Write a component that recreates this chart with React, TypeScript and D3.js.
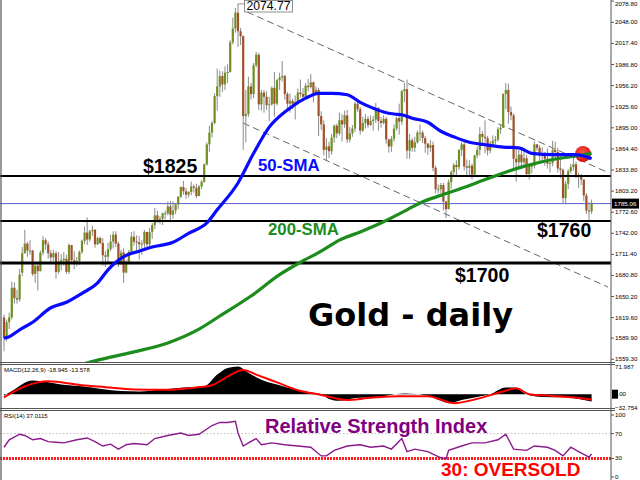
import React from "react";
import * as d3 from "d3";

// ---------- Daily candles (Apr 2020 – Feb 2021) ----------
const opens = [
  1620,1590,1613,1620,1663,1648,1646,1685,1713,1727,1717,1717,1683,1695,1687,1714,1732,1726,1713,1707,1713,
  1686,1700,1703,1705,1686,1725,1703,1698,1702,1715,1731,1743,1733,1745,1747,1726,1735,1728,1710,1708,1719,
  1730,1740,1727,1698,1714,1685,1698,1715,1737,1730,1729,1726,1727,1744,1726,1744,1754,1768,1761,1763,1771,1771,
  1781,1769,1775,1784,1795,1809,1803,1798,1802,1810,1808,1796,1810,1817,1842,1871,1888,1902,1941,1955,1970,1958,
  1975,1976,2019,2039,2062,2035,2028,1912,1915,1955,1944,1986,2001,1929,1946,1940,1928,1929,1953,1930,1964,
  1968,1970,1944,1930,1934,1930,1932,1946,1944,1940,1956,1954,1961,1944,1950,1912,1900,1863,1868,1861,1881,1898,
  1887,1906,1900,1913,1878,1887,1894,1930,1922,1891,1902,1908,1899,1905,1907,1924,1905,1902,1908,1878,1868,
  1879,1894,1909,1904,1948,1951,1862,1877,1866,1874,1888,1888,1880,1872,1866,1870,1837,1806,1806,1812,1788,
  1777,1816,1831,1841,1838,1863,1871,1839,1837,1840,1827,1855,1863,1886,1882,1880,1862,1872,1876,1878,1893,
  1895,1944,1950,1918,1913,1850,1845,1856,1845,1851,1828,1840,1840,1871,1866,1856,1856,1850,1843,1844,
  1863,1860,1836,1834,1793,1814,1832,1838,1842,1826,1824,1820,1797,1775,1774,
];
const highs = [
  1624,1617,1627,1672,1671,1660,1690,1722,1747,1730,1732,1718,1700,1698,1717,1738,1735,1730,1718,1718,1716,
  1715,1712,1715,1711,1727,1722,1716,1708,1717,1733,1752,1765,1747,1753,1748,1737,1737,1735,1716,1728,1740,
  1745,1745,1730,1718,1720,1703,1718,1744,1745,1739,1738,1732,1747,1744,1750,1757,1779,1775,1767,1772,1775,1788,
  1789,1788,1786,1796,1810,1818,1808,1803,1817,1813,1814,1812,1819,1843,1874,1898,1905,1945,1981,1978,1977,1984,
  1987,2022,2055,2069,2075,2040,2029,1950,1969,1960,1989,2005,2004,1950,1950,1948,1940,1955,1976,1966,1975,
  1992,1972,1947,1945,1937,1942,1952,1965,1953,1960,1966,1973,1962,1955,1953,1919,1906,1880,1875,1886,1900,1901,
  1917,1915,1920,1921,1896,1899,1933,1933,1925,1911,1915,1912,1913,1912,1931,1925,1911,1913,1911,1879,1883,
  1900,1911,1930,1950,1960,1965,1886,1880,1882,1891,1900,1891,1883,1873,1877,1875,1840,1813,1815,1815,1789,
  1820,1833,1844,1848,1864,1875,1875,1849,1848,1843,1856,1868,1896,1890,1906,1883,1876,1884,1883,1896,1900,
  1945,1960,1959,1926,1916,1864,1863,1865,1864,1856,1842,1843,1875,1871,1870,1867,1860,1865,1850,1876,
  1875,1866,1856,1836,1818,1835,1843,1855,1846,1830,1828,1820,1800,1787,1791,
];
const lows = [
  1571,1585,1603,1617,1640,1640,1643,1680,1713,1708,1711,1680,1670,1659,1687,1710,1718,1705,1700,1702,1676,
  1683,1688,1695,1683,1683,1700,1690,1694,1696,1712,1726,1725,1730,1738,1721,1725,1726,1695,1693,1700,1716,
  1720,1722,1693,1696,1670,1684,1697,1713,1724,1714,1704,1711,1720,1721,1723,1734,1748,1757,1755,1754,1762,1768,
  1758,1763,1770,1777,1793,1798,1792,1794,1797,1801,1793,1796,1806,1815,1840,1860,1881,1900,1920,1940,1947,1950,
  1960,1975,2016,2033,2012,2015,1863,1874,1911,1936,1938,1983,1921,1920,1917,1921,1905,1927,1911,1927,1950,
  1962,1936,1922,1917,1922,1907,1928,1939,1934,1938,1948,1952,1932,1943,1883,1892,1855,1848,1851,1856,1873,1880,
  1884,1875,1895,1873,1874,1882,1889,1918,1885,1889,1894,1895,1898,1891,1902,1891,1895,1900,1872,1859,1860,
  1875,1891,1885,1899,1932,1850,1850,1860,1860,1872,1876,1873,1859,1856,1860,1832,1800,1800,1800,1775,1764,
  1777,1806,1826,1826,1834,1854,1833,1825,1826,1820,1825,1851,1855,1871,1858,1855,1858,1868,1871,1875,1886,
  1896,1922,1901,1906,1836,1817,1838,1839,1840,1824,1820,1829,1836,1862,1843,1846,1840,1836,1830,1839,
  1847,1830,1822,1785,1784,1806,1829,1833,1822,1808,1812,1789,1770,1761,1770,
];
const closes = [
  1590,1613,1620,1663,1648,1646,1682,1713,1727,1717,1717,1683,1695,1687,1714,1732,1726,1713,1707,1713,1686,
  1700,1703,1705,1686,1725,1703,1698,1702,1715,1731,1743,1733,1745,1747,1726,1735,1728,1710,1708,1719,1730,
  1740,1727,1698,1714,1685,1698,1715,1737,1730,1729,1726,1727,1744,1726,1744,1754,1768,1761,1763,1771,1771,1781,
  1769,1775,1784,1795,1809,1803,1798,1802,1810,1808,1796,1810,1817,1842,1871,1888,1902,1941,1955,1970,1958,1975,
  1976,2019,2039,2062,2035,2028,1912,1915,1955,1944,1986,2001,1929,1946,1940,1928,1929,1953,1930,1964,1968,
  1970,1944,1930,1934,1930,1932,1946,1944,1940,1956,1954,1961,1944,1950,1912,1900,1863,1868,1861,1881,1898,1887,
  1906,1900,1913,1878,1887,1894,1930,1922,1891,1902,1908,1899,1905,1907,1924,1905,1902,1908,1878,1868,1879,
  1894,1909,1904,1948,1951,1862,1877,1866,1874,1888,1888,1880,1872,1866,1870,1837,1806,1806,1812,1788,1777,
  1816,1831,1841,1838,1863,1871,1839,1837,1840,1827,1855,1863,1886,1882,1880,1862,1872,1876,1878,1893,1895,
  1944,1950,1918,1913,1850,1845,1856,1845,1851,1828,1840,1840,1871,1866,1856,1856,1850,1843,1844,1863,
  1860,1836,1834,1793,1814,1832,1838,1842,1826,1824,1820,1797,1775,1774,1785.06,
];

// ---------- Moving averages (bar index -> price) ----------
const sma50Bars = [0,2,6,11,18,24,30,36,40,43,47,52,57,65,71,78,82,90,96,102,109,116,121,126,132,137,141,146,150,153,157,163,168,173,179,186,192,198,203,211,219,224,226];
const sma50Vals = [1590,1592,1602,1613,1634,1642,1655,1670,1689,1700,1710,1716,1722,1729,1742,1757,1776,1815,1858,1896,1921,1938,1945,1945,1943,1932,1925,1918,1915,1914,1909,1903,1890,1882,1874,1870,1867,1866,1858,1856,1856,1853,1850];
const sma200Bars = [28,36,50,63,75,83,95,106,114,122,129,137,145,155,160,168,175,183,188,194,199,205,211,218,226];
const sma200Vals = [1550,1558,1570,1583,1603,1622,1651,1682,1700,1716,1732,1744,1757,1776,1786,1797,1806,1817,1824,1832,1838,1844,1849,1853,1858];

// ---------- MACD(12,26,9) ----------
const macdBars = [0,3,11,22,30,45,52,61,69,77,82,86,90,94,99,105,112,118,122,125,129,135,143,154,163,168,171,176,182,187,193,196,201,207,215,221,226];
const macdVals = [-4,8,35,25,20,8,7,12,17,20,50,67,71,55,37,25,12,5,0,-12,-17,-10,-7,2,-4,-17,-23,-15,-7,0,17,17,0,-7,-8,-12,-18.9];
const signalBars = [0,8,17,30,39,50,61,74,80,86,92,97,105,113,122,132,140,152,163,173,182,192,197,202,210,218,226];
const signalVals = [-8,20,33,23,18,12,11,17,23,45,62,50,30,10,-2,-15,-10,-5,-5,-23,-12,7,15,0,-4,-8,-13.6];

// ---------- RSI(14) ----------
const rsiBars = [0,2,6,8,11,14,17,20,23,28,32,35,38,41,44,47,50,55,58,63,68,71,75,80,83,86,89,90,92,94,97,99,103,108,113,118,122,124,127,132,137,141,146,149,153,155,158,163,168,170,171,176,180,185,190,193,196,201,204,209,212,215,218,221,225,226];
const rsiVals = [48,60,69,67,60,62,57,56,55,60,63,57,50,53,45,52,54,52,62,67,71,67,69,83,88,88,90,71,50,55,62,52,55,52,50,48,34,34,43,50,52,48,50,45,62,41,45,41,31,29,43,50,55,55,60,69,45,43,50,48,43,34,48,41,32,37];

// ---------- Axes / annotations ----------
const priceTicks = [2078.8,2048.0,2017.4,1986.8,1956.2,1925.6,1895.0,1864.4,1833.8,1803.2,1772.6,1742.0,1711.4,1680.8,1650.2,1619.6,1589.9,1559.3];
const macdTicks = [71.987, -32.754];
const rsiTicks = [100, 70, 30, 0];
const levelPrices = [1825, 1760, 1699];
const levelWidths = [2, 2, 3];
const lastPrice = 1785.06;
const peakBar = 90;
const peakPrice = 2074.77;
const upperTrend = [[93.5, 2063], [231.2, 1832]];
const lowerTrend = [[91.9, 1902], [232.3, 1664]];
const crossBar = 222.7;
const crossPrice = 1857;

const AX = 611;
const FONT = "'Liberation Sans', Arial, sans-serif";

export default function App() {
  const n = closes.length;
  const x = d3.scaleLinear().domain([0, n - 1]).range([4, 4 + 2.6 * (n - 1)]);
  const y = d3.scaleLinear().domain([1555.3, 2080.4]).range([362, 0]);
  const ym = d3.scaleLinear().domain([-32.754, 71.987]).range([407, 366]);
  const yr = d3.scaleLinear().domain([0, 100]).range([477, 415]);

  const mkLine = (bars: number[], vals: number[], ys: (v: number) => number, curve: any = d3.curveMonotoneX) =>
    d3.line<number>().x((_, i) => x(bars[i])).y((v) => ys(v)).curve(curve)(vals) || "";

  const sma50Path = mkLine(sma50Bars, sma50Vals, y);
  const sma200Path = mkLine(sma200Bars, sma200Vals, y);
  const macdArea = d3.area<number>().x((_, i) => x(macdBars[i])).y0(ym(0)).y1((v) => ym(v)).curve(d3.curveMonotoneX)(macdVals) || "";
  const signalPath = mkLine(signalBars, signalVals, ym);
  const rsiPath = mkLine(rsiBars, rsiVals, yr, d3.curveLinear);

  const fmt = d3.format(".2f");

  return (
    <svg width={640} height={480} style={{ position: "absolute", left: 0, top: 0, background: "#fff" }} fontFamily={FONT}>
      <defs>
        <clipPath id="pc"><rect x={0} y={0} width={AX} height={362} /></clipPath>
        <clipPath id="mc"><rect x={0} y={364} width={AX} height={45} /></clipPath>
        <radialGradient id="ball" cx="45%" cy="40%" r="60%">
          <stop offset="0%" stopColor="#ff5a4a" />
          <stop offset="100%" stopColor="#d80f0f" />
        </radialGradient>
      </defs>
      <rect x={0} y={0} width={640} height={480} fill="#fff" />

      {/* ---------- price panel ---------- */}
      <g clipPath="url(#pc)">
        <line x1={0} x2={AX} y1={y(lastPrice)} y2={y(lastPrice)} stroke="#4646c8" strokeWidth={0.9} />
        {[upperTrend, lowerTrend].map((t, k) => (
          <line key={k} x1={x(t[0][0])} y1={y(t[0][1])} x2={x(t[1][0])} y2={y(t[1][1])}
            stroke="#555" strokeWidth={0.9} strokeDasharray="7,4" />
        ))}
        {closes.map((c, i) => {
          const o = opens[i];
          const hi = Math.max(highs[i], o, c);
          const lo = Math.min(lows[i], o, c);
          const top = y(Math.max(o, c));
          const bot = y(Math.min(o, c));
          const cx = x(i);
          return (
            <g key={i}>
              <line x1={cx} x2={cx} y1={y(hi)} y2={y(lo)} stroke="#8a8a8a" strokeWidth={1} />
              <rect x={cx - 1.1} y={top} width={2.2} height={Math.max(1, bot - top)}
                fill={c >= o ? "#6f8f22" : "#a0502a"} />
            </g>
          );
        })}
        {levelPrices.map((p, k) => (
          <line key={k} x1={0} x2={AX} y1={y(p)} y2={y(p)} stroke="#000" strokeWidth={levelWidths[k]} />
        ))}
        <circle cx={x(crossBar)} cy={y(crossPrice)} r={8} fill="url(#ball)" />
        <path d={sma200Path} fill="none" stroke="#1c8c1c" strokeWidth={3.2} />
        <path d={sma50Path} fill="none" stroke="#0a0aff" strokeWidth={3.2} />
      </g>

      {/* peak label */}
      <line x1={x(peakBar)} y1={y(peakPrice)} x2={244.5} y2={y(peakPrice)} stroke="#777" strokeWidth={0.8} />
      <rect x={244.5} y={0.5} width={48} height={11.5} fill="#fff" stroke="#777" strokeWidth={0.8} />
      <text x={246.5} y={10} fontSize={12.2} fill="#000">{fmt(peakPrice)}</text>

      {/* annotations */}
      <text x={143} y={173} fontSize={19.5} fontWeight="bold" fill="#000">$1825</text>
      <text x={258} y={171} fontSize={16.8} fontWeight="bold" fill="#0a0aff">50-SMA</text>
      <text x={268} y={235} fontSize={16.8} fontWeight="bold" fill="#1c8c1c">200-SMA</text>
      <text x={537} y={237} fontSize={19.5} fontWeight="bold" fill="#000">$1760</text>
      <text x={455} y={282} fontSize={19.5} fontWeight="bold" fill="#000">$1700</text>
      <text x={308} y={326} fontSize={32} fontWeight="bold" fontFamily="'DejaVu Sans', sans-serif" fill="#000">Gold - daily</text>

      {/* ---------- MACD panel ---------- */}
      <g clipPath="url(#mc)">
        <path d={macdArea} fill="#000" />
        <path d={signalPath} fill="none" stroke="#ff0000" strokeWidth={2} />
      </g>
      <text x={4} y={372} fontSize={6} fill="#000">MACD(12,26,9) -18.945 -13.578</text>

      {/* ---------- RSI panel ---------- */}
      <line x1={0} x2={AX} y1={yr(70)} y2={yr(70)} stroke="#bdbdbd" strokeWidth={1} strokeDasharray="1.5,2" />
      <line x1={0} x2={AX} y1={yr(30)} y2={yr(30)} stroke="#ff2020" strokeWidth={3} strokeDasharray="2,1" />
      <path d={rsiPath} fill="none" stroke="#8a1a8a" strokeWidth={1.4} />
      <text x={4} y={418} fontSize={6} fill="#000">RSI(14) 37.0115</text>
      <text x={265} y={433} fontSize={20} fontWeight="bold" fill="#800080">Relative Strength Index</text>
      <text x={441} y={476} fontSize={19} fontWeight="bold" fill="#ff0000">30: OVERSOLD</text>

      {/* ---------- frame ---------- */}
      <line x1={1} x2={1} y1={0} y2={480} stroke="#555" strokeWidth={1.2} />
      <line x1={AX} x2={AX} y1={0} y2={480} stroke="#555" strokeWidth={1} />
      <line x1={0} x2={AX + 4} y1={362.5} y2={362.5} stroke="#555" strokeWidth={1} />
      <line x1={0} x2={AX + 4} y1={364.5} y2={364.5} stroke="#555" strokeWidth={1} />
      <line x1={0} x2={AX + 4} y1={408.5} y2={408.5} stroke="#555" strokeWidth={1} />
      <line x1={0} x2={AX + 4} y1={410.5} y2={410.5} stroke="#555" strokeWidth={1} />

      {/* price axis */}
      {priceTicks.map((p) => (
        <g key={p}>
          <line x1={AX} x2={AX + 3} y1={y(p)} y2={y(p)} stroke="#555" />
          <text x={AX + 4} y={Math.max(y(p) + 2, 5.5)} fontSize={6.2} fill="#000">{fmt(p)}</text>
        </g>
      ))}
      <rect x={AX + 1} y={y(lastPrice) - 5} width={27} height={10} fill="#000" />
      <text x={AX + 3} y={y(lastPrice) + 2.2} fontSize={6.2} fill="#fff">{fmt(lastPrice)}</text>

      {/* MACD axis */}
      {macdTicks.map((v) => (
        <text key={v} x={AX + 4} y={ym(v) + 2.5} fontSize={6.2} fill="#000">{d3.format(".3f")(v)}</text>
      ))}
      <rect x={AX + 1} y={ym(0) - 4.5} width={6} height={9} fill="#000" />
      <text x={AX + 3} y={ym(0) + 2.2} fontSize={6.2} fill="#000">0.00</text>

      {/* RSI axis */}
      {rsiTicks.map((v) => (
        <g key={v}>
          <line x1={AX} x2={AX + 3} y1={yr(v)} y2={yr(v)} stroke="#555" />
          <text x={AX + 4} y={yr(v) + 2} fontSize={6.2} fill="#000">{v}</text>
        </g>
      ))}
    </svg>
  );
}
